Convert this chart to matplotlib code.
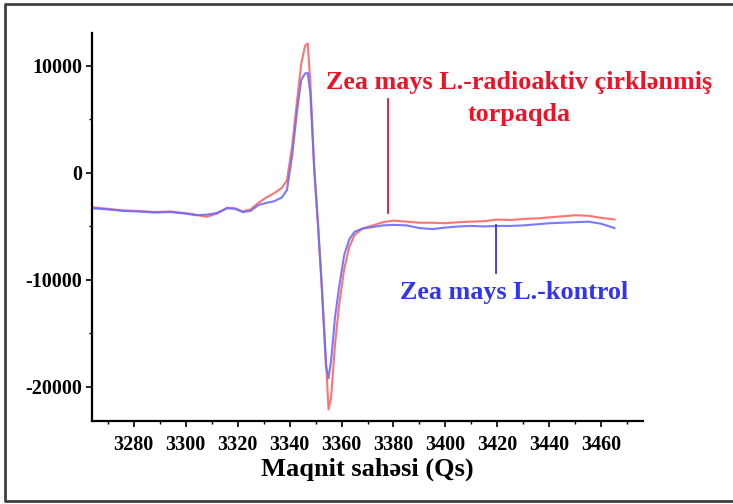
import matplotlib
matplotlib.use("Agg")
import matplotlib.pyplot as plt
from matplotlib.ticker import MultipleLocator
from matplotlib.lines import Line2D

plt.rcParams["axes.unicode_minus"] = False

field = [3264, 3270, 3276, 3282, 3288, 3294, 3300, 3304, 3308, 3312, 3316, 3319,
         3322, 3325, 3328, 3331, 3334, 3337, 3339, 3341, 3343, 3344.5, 3346, 3347,
         3348, 3349.5, 3351, 3352.5, 3354, 3355, 3356, 3357.5, 3359, 3361, 3363,
         3365, 3368, 3372, 3376, 3380, 3385, 3390, 3395, 3400, 3405, 3410, 3415,
         3420, 3425, 3430, 3435, 3440, 3445, 3450, 3455, 3460, 3465]

radio = [-3200, -3350, -3500, -3550, -3650, -3600, -3750, -3900, -4100, -3800, -3250, -3300,
         -3600, -3400, -2800, -2300, -1900, -1400, -700, 2500, 7000, 10200, 11900, 12100,
         8500, 500, -5000, -11000, -17500, -22100, -21000, -16000, -12500, -9000, -6900,
         -5800, -5200, -4900, -4600, -4450, -4550, -4650, -4650, -4700, -4600, -4550, -4500,
         -4350, -4400, -4300, -4250, -4150, -4050, -3950, -4000, -4200, -4350]

kontrol = [-3300, -3400, -3550, -3600, -3700, -3650, -3800, -3950, -3900, -3750, -3300, -3350,
           -3650, -3550, -3000, -2800, -2650, -2300, -1600, 1600, 6000, 8700, 9300, 9350,
           7500, 300, -5000, -11000, -18000, -19200, -17500, -13500, -10800, -7700, -6200,
           -5500, -5200, -5050, -4900, -4850, -4900, -5150, -5250, -5100, -5000, -4950, -5000,
           -4950, -4950, -4900, -4800, -4700, -4650, -4600, -4550, -4750, -5150]

xticks = [3280, 3300, 3320, 3340, 3360, 3380, 3400, 3420, 3440, 3460]
yticks = [-20000, -10000, 0, 10000]

W, H = 733, 504
fig = plt.figure(figsize=(W / 100, H / 100), dpi=100)
ax = fig.add_axes([92 / W, 1 - 421 / H, (643 - 92) / W, (421 - 33) / H])

ax.plot(field, radio, color=(1.0, 0.45, 0.45), lw=1.5)
ax.plot(field, kontrol, color=(0.42, 0.42, 1.0), lw=1.5, alpha=0.9)

ax.set_xlim(3264, 3476)
ax.set_ylim(-23180, 13080)
for s in ["top", "right"]:
    ax.spines[s].set_visible(False)
for s in ["left", "bottom"]:
    ax.spines[s].set_linewidth(1.6)
    ax.spines[s].set_color("black")

ax.set_xticks(xticks)
ax.set_yticks(yticks)
ax.xaxis.set_minor_locator(MultipleLocator(10))
ax.yaxis.set_minor_locator(MultipleLocator(5000))
ax.tick_params(axis="both", which="major", direction="out", length=4, width=1.2)
ax.tick_params(axis="both", which="minor", direction="out", length=2, width=1.0)
ax.tick_params(axis="x", which="major", pad=6)
ax.tick_params(axis="y", which="major", pad=3)

font = "Liberation Serif"
for lab in ax.get_xticklabels() + ax.get_yticklabels():
    lab.set_fontfamily(font)
    lab.set_fontweight("bold")
    lab.set_fontsize(14.5)

ax.set_xlabel("Maqnit sahəsi (Qs)", fontfamily=font, fontweight="bold", fontsize=19, labelpad=2)

red = (0.92, 0.08, 0.15)
blue = (0.2, 0.2, 0.95)
fig.text(519 / W, 1 - 83 / H, "Zea mays L.-radioaktiv çirklənmiş", color=red,
         fontfamily=font, fontweight="bold", fontsize=18.8, ha="center", va="center")
fig.text(519 / W, 1 - 115 / H, "torpaqda", color=red,
         fontfamily=font, fontweight="bold", fontsize=18.8, ha="center", va="center")
fig.text(514 / W, 1 - 293 / H, "Zea mays L.-kontrol", color=blue,
         fontfamily=font, fontweight="bold", fontsize=18.8, ha="center", va="center")

fig.add_artist(Line2D([388 / W, 388 / W], [1 - 99 / H, 1 - 213 / H], color=red, lw=1.3))
fig.add_artist(Line2D([496 / W, 496 / W], [1 - 225 / H, 1 - 273 / H], color=blue, lw=1.3))

# figure frame (top, left, bottom)
fc = (0.25, 0.25, 0.25)
fig.add_artist(Line2D([1.0, 5 / W, 5 / W, 1.0], [1 - 4 / H, 1 - 4 / H, 1 - 501 / H, 1 - 501 / H],
                      color=fc, lw=2))

fig.savefig("out.png", dpi=100)
